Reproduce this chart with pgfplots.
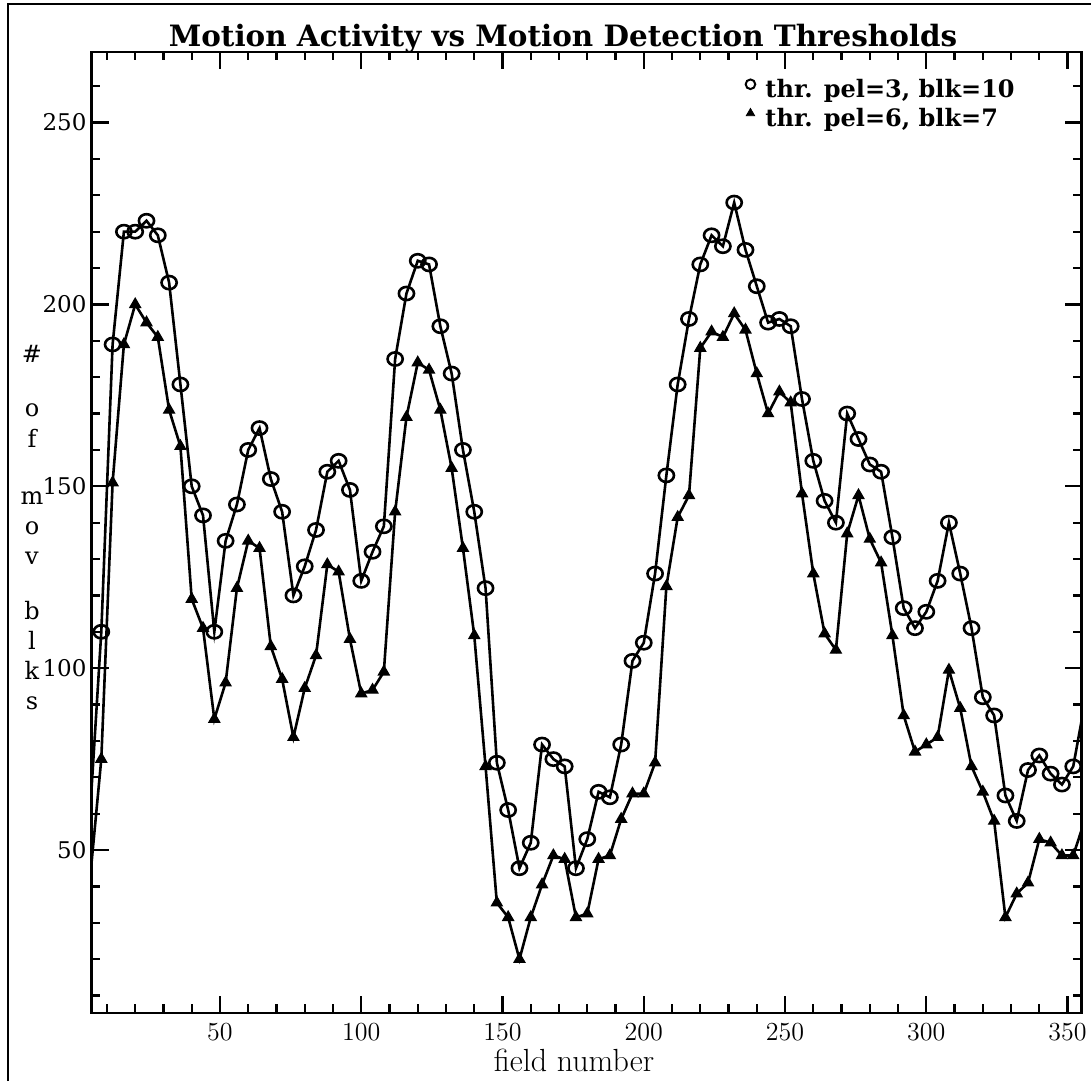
\documentclass[border=0pt]{standalone}
\usepackage{fontspec}
\newfontfamily\dvs{DejaVu Serif}
\usepackage{pgfplots}
\pgfplotsset{compat=1.18}
\pgfplotsset{markonly/.style={legend image code/.code={\path[draw=none,fill=none] (0pt,-1pt) rectangle (12.5pt,7pt); \draw[##1] plot coordinates {(5pt,3.7pt)};}}}
\begin{document}
\begin{tikzpicture}
\useasboundingbox (-45.85pt,-34pt) rectangle (499.65pt,506.5pt);
\draw[line width=1pt] (-41.65pt,-34pt) -- (-41.65pt,504.5pt) -- (499.65pt,504.5pt);
\begin{axis}[
  at={(0,0)}, anchor=south west, scale only axis,
  width=495pt, height=480.5pt,
  xmin=4.6, xmax=355, ymin=5.2, ymax=269.4,
  xtick={50,100,...,350}, ytick={50,100,...,250},
  minor xtick={10,20,...,350}, minor ytick={10,20,...,260},
  tick align=inside,
  major tick length=8.5pt, minor tick length=4.25pt,
  every tick/.style={black, line width=1.1pt},
  axis line style={line width=1.4pt},
  /pgf/number format/assume math mode=true,
  xticklabel style={font=\fontsize{13}{13}\selectfont, inner sep=0pt, yshift=-5pt},
  yticklabel style={font=\dvs\fontsize{11.5}{12}\selectfont, inner sep=0pt, xshift=-2.4pt},
  legend style={at={(0.6549,0.9737)}, anchor=north west, draw=none, fill=none,
    inner sep=0pt, row sep=1.5pt,
    nodes={inner sep=0pt, text height=9pt, text depth=3pt},
    font=\dvs\bfseries\fontsize{12}{14}\selectfont},
  legend cell align=left,
]
\addplot[black, line width=1.3pt, mark=o, mark size=3.3pt,
  mark options={line width=1.3pt, xscale=1.15}, forget plot] coordinates {
(4,60)(8,110)(12,189)(16,220)(20,220)(24,223)(28,219)(32,206)(36,178)(40,150)
(44,142)(48,110)(52,135)(56,145)(60,160)(64,166)(68,152)(72,143)(76,120)(80,128)
(84,138)(88,154)(92,157)(96,149)(100,124)(104,132)(108,139)(112,185)(116,203)(120,212)
(124,211)(128,194)(132,181)(136,160)(140,143)(144,122)(148,74)(152,61)(156,45)(160,52)
(164,79)(168,75)(172,73)(176,45)(180,53)(184,66)(188,64.5)(192,79)(196,102)(200,107)
(204,126)(208,153)(212,178)(216,196)(220,211)(224,219)(228,216)(232,228)(236,215)(240,205)
(244,195)(248,196)(252,194)(256,174)(260,157)(264,146)(268,140)(272,170)(276,163)(280,156)
(284,154)(288,136)(292,116.5)(296,111)(300,115.5)(304,124)(308,140)(312,126)(316,111)(320,92)
(324,87)(328,65)(332,58)(336,72)(340,76)(344,71)(348,68)(352,73)(356,90)
};
\addplot[black, line width=1.3pt, mark=triangle*, mark size=3.1pt,
  mark options={line width=0.6pt}, forget plot] coordinates {
(4,42)(8,75)(12,151)(16,189)(20,200)(24,195)(28,191)(32,171)(36,161)(40,119)
(44,111)(48,86)(52,96)(56,122)(60,135)(64,133)(68,106)(72,97)(76,81)(80,94.5)
(84,103.5)(88,128.5)(92,126.5)(96,108)(100,93)(104,94)(108,99)(112,143)(116,169)(120,184)
(124,182)(128,171)(132,155)(136,133)(140,109)(144,73)(148,35.5)(152,31.5)(156,20)(160,31.5)
(164,40.5)(168,48.5)(172,47.5)(176,31.5)(180,32.5)(184,47.5)(188,48.5)(192,58.5)(196,65.5)(200,65.5)
(204,74)(208,122.5)(212,141.5)(216,147.5)(220,188)(224,192.5)(228,191)(232,197.5)(236,193)(240,181)
(244,170)(248,176)(252,173)(256,148)(260,126)(264,109.5)(268,105)(272,137)(276,147.5)(280,135.5)
(284,129)(288,109)(292,87)(296,77)(300,79)(304,81)(308,99.5)(312,89)(316,73)(320,66)
(324,58)(328,31.5)(332,38)(336,41)(340,53)(344,52)(348,48.5)(352,48.5)(356,58)
};
\addlegendimage{black, mark=o, mark size=2.4pt, mark options={line width=1pt}, markonly}
\addlegendentry{thr. pel=3, blk=10}
\addlegendimage{black, mark=triangle*, mark size=2.4pt, markonly}
\addlegendentry{thr. pel=6, blk=7}
\end{axis}
\node[anchor=base, font=\dvs\bfseries\fontsize{14.7}{16}\selectfont] at (235.65pt,483pt) {Motion Activity vs Motion Detection Thresholds};
\node[anchor=base, font=\fontsize{16}{18}\selectfont] at (241.15pt,-29pt) {field number};
\begin{scope}[font=\dvs\fontsize{12}{13}\selectfont]
\node[anchor=base] at (-29.85pt,325pt) {\#};
\node[anchor=base] at (-29.85pt,298pt) {o};
\node[anchor=base] at (-29.85pt,282.5pt) {f};
\node[anchor=base] at (-29.85pt,254pt) {m};
\node[anchor=base] at (-29.85pt,239pt) {o};
\node[anchor=base] at (-29.85pt,224pt) {v};
\node[anchor=base] at (-29.85pt,196.5pt) {b};
\node[anchor=base] at (-29.85pt,181.5pt) {l};
\node[anchor=base] at (-29.85pt,166.5pt) {k};
\node[anchor=base] at (-29.85pt,151.5pt) {s};
\end{scope}
\end{tikzpicture}
\end{document}
